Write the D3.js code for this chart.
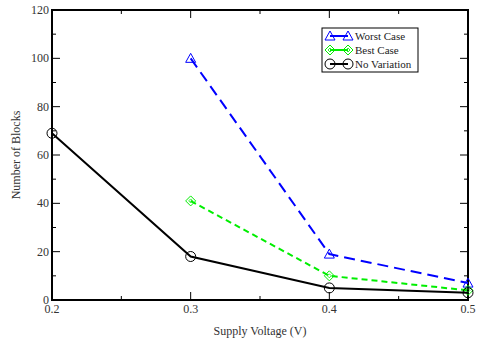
<!DOCTYPE html>
<html>
<head>
<meta charset="utf-8">
<script src="https://cdn.jsdelivr.net/npm/d3@7"></script>
<style>
  body { margin: 0; background: #fff; }
  text { font-family: "Liberation Serif", "Times New Roman", serif; }
</style>
</head>
<body>
<div id="chart"></div>
<script>
// Datos
var voltages = [0.2, 0.3, 0.4, 0.5];
var worstCase = [null, 100, 19, 7];
var bestCase = [null, 41, 10, 4];
var noVariation = [69, 18, 5, 3];
var xTicks = [0.2, 0.3, 0.4, 0.5];
var yTicks = [0, 20, 40, 60, 80, 100, 120];
var minorX = [0.25, 0.35, 0.45];
var minorY = [10, 30, 50, 70, 90, 110];

var width = 478, height = 346;
var mLeft = 52, mRight = 468, mTop = 10, mBottom = 300;

var svg = d3.select("#chart").append("svg")
    .attr("width", width)
    .attr("height", height);

var x = d3.scaleLinear().domain([0.2, 0.5]).range([mLeft, mRight]);
var y = d3.scaleLinear().domain([0, 120]).range([mBottom, mTop]);

// Ticks hacia dentro, en los cuatro lados
var ticks = svg.append("g").attr("stroke", "black").attr("stroke-width", 1);
function tickX(v, len) {
    ticks.append("line").attr("x1", x(v)).attr("x2", x(v)).attr("y1", mBottom).attr("y2", mBottom - len);
    ticks.append("line").attr("x1", x(v)).attr("x2", x(v)).attr("y1", mTop).attr("y2", mTop + len);
}
function tickY(v, len) {
    ticks.append("line").attr("x1", mLeft).attr("x2", mLeft + len).attr("y1", y(v)).attr("y2", y(v));
    ticks.append("line").attr("x1", mRight).attr("x2", mRight - len).attr("y1", y(v)).attr("y2", y(v));
}
xTicks.forEach(function(v) { tickX(v, 8); });
minorX.forEach(function(v) { tickX(v, 4); });
yTicks.forEach(function(v) { tickY(v, 8); });
minorY.forEach(function(v) { tickY(v, 4); });

svg.append("rect")
    .attr("x", mLeft).attr("y", mTop)
    .attr("width", mRight - mLeft).attr("height", mBottom - mTop)
    .attr("fill", "none").attr("stroke", "black").attr("stroke-width", 2);

// Etiquetas de ticks
svg.selectAll("text.xt").data(xTicks).enter().append("text")
    .attr("class", "xt")
    .attr("x", function(d) { return x(d); })
    .attr("y", mBottom + 13)
    .attr("text-anchor", "middle")
    .attr("font-size", 12)
    .attr("fill", "#333")
    .text(function(d) { return d3.format(".1f")(d); });

svg.selectAll("text.yt").data(yTicks).enter().append("text")
    .attr("class", "yt")
    .attr("x", mLeft - 3)
    .attr("y", function(d) { return y(d) + 4; })
    .attr("text-anchor", "end")
    .attr("font-size", 12)
    .attr("fill", "#333")
    .text(function(d) { return d; });

svg.append("text")
    .attr("x", (mLeft + mRight) / 2)
    .attr("y", 335)
    .attr("text-anchor", "middle")
    .attr("font-size", 12)
    .attr("fill", "#333")
    .text("Supply Voltage (V)");

svg.append("text")
    .attr("transform", "translate(20," + ((mTop + mBottom) / 2) + ") rotate(-90)")
    .attr("text-anchor", "middle")
    .attr("font-size", 12)
    .attr("fill", "#333")
    .text("Number of Blocks");

// Series
var series = [
    { name: "Worst Case", values: worstCase, color: "#0000ff", dash: "11,6", marker: "triangle" },
    { name: "Best Case", values: bestCase, color: "#00ee00", dash: "6,4", marker: "diamond" },
    { name: "No Variation", values: noVariation, color: "#000000", dash: null, marker: "circle" }
];

function marcador(g, tipo, cx, cy, color) {
    if (tipo === "circle") {
        g.append("circle").attr("cx", cx).attr("cy", cy).attr("r", 5)
            .attr("fill", "none").attr("stroke", color).attr("stroke-width", 1);
    } else if (tipo === "triangle") {
        g.append("path").attr("d", "M" + cx + "," + (cy - 5) + "L" + (cx + 5) + "," + (cy + 4) + "L" + (cx - 5) + "," + (cy + 4) + "Z")
            .attr("fill", "none").attr("stroke", color).attr("stroke-width", 1);
    } else {
        g.append("path").attr("d", "M" + cx + "," + (cy - 5) + "L" + (cx + 5) + "," + cy + "L" + cx + "," + (cy + 5) + "L" + (cx - 5) + "," + cy + "Z")
            .attr("fill", "none").attr("stroke", color).attr("stroke-width", 1);
        g.append("path").attr("d", "M" + cx + "," + (cy - 2) + "L" + (cx + 2) + "," + cy + "L" + cx + "," + (cy + 2) + "L" + (cx - 2) + "," + cy + "Z")
            .attr("fill", "none").attr("stroke", color).attr("stroke-width", 0.8);
    }
}

var line = d3.line()
    .defined(function(d) { return d[1] !== null; })
    .x(function(d) { return x(d[0]); })
    .y(function(d) { return y(d[1]); });

series.forEach(function(s) {
    var pts = voltages.map(function(v, i) { return [v, s.values[i]]; });
    svg.append("path")
        .datum(pts)
        .attr("d", line)
        .attr("fill", "none")
        .attr("stroke", s.color)
        .attr("stroke-width", 2)
        .attr("stroke-dasharray", s.dash);
    var g = svg.append("g");
    pts.filter(function(p) { return p[1] !== null; }).forEach(function(p) {
        marcador(g, s.marker, x(p[0]), y(p[1]), s.color);
    });
});

// Leyenda
var lg = svg.append("g");
lg.append("rect").attr("x", 322).attr("y", 28).attr("width", 96).attr("height", 44)
    .attr("fill", "white").attr("stroke", "black").attr("stroke-width", 1);
series.forEach(function(s, i) {
    var ly = 36 + i * 14;
    lg.append("line").attr("x1", 330).attr("x2", 348).attr("y1", ly).attr("y2", ly)
        .attr("stroke", s.color).attr("stroke-width", 2);
    marcador(lg, s.marker, 330, ly, s.color);
    marcador(lg, s.marker, 348, ly, s.color);
    lg.append("text").attr("x", 355).attr("y", ly + 4).attr("font-size", 11).attr("fill", "#222").text(s.name);
});
</script>
</body>
</html>
